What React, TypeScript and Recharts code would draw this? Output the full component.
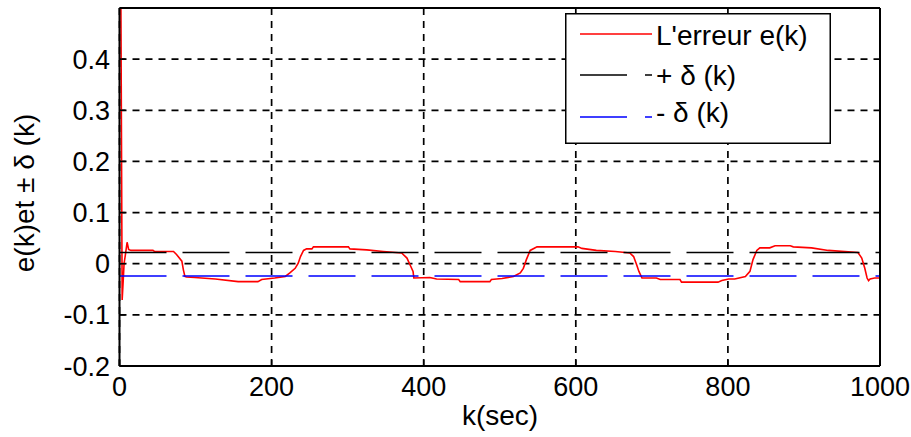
import React from 'react';
import { LineChart, Line, XAxis, YAxis, CartesianGrid, Legend, Label } from 'recharts';

const errK = [1, 3.5, 5, 6, 8, 10, 12, 15, 44, 46, 71, 75, 82, 84, 86, 88, 99, 126, 156, 182, 187, 204, 218, 224, 231, 235, 238, 242, 246, 253, 255, 301, 303, 325, 347, 371, 378, 382, 386, 387, 408, 417, 446, 448, 487, 489, 503, 518, 527, 531, 535, 540, 549, 603, 608, 627, 652, 671, 676, 680, 683, 687, 706, 711, 737, 739, 787, 792, 801, 809, 823, 829, 833, 838, 842, 855, 862, 882, 886, 910, 932, 971, 976, 980, 983, 985, 987, 993, 1000];
const errV = [0.8, -0.071, -0.03, 0.0, 0.02, 0.042, 0.028, 0.026, 0.026, 0.024, 0.024, 0.018, 0.005, -0.012, -0.025, -0.026, -0.027, -0.03, -0.035, -0.035, -0.031, -0.028, -0.025, -0.018, -0.009, 0.001, 0.014, 0.026, 0.029, 0.029, 0.033, 0.033, 0.029, 0.027, 0.024, 0.021, 0.011, -0.002, -0.015, -0.028, -0.027, -0.03, -0.031, -0.035, -0.035, -0.031, -0.029, -0.025, -0.018, -0.009, 0.008, 0.026, 0.033, 0.033, 0.03, 0.026, 0.024, 0.021, 0.014, -0.002, -0.015, -0.028, -0.028, -0.031, -0.031, -0.036, -0.036, -0.033, -0.03, -0.03, -0.025, -0.015, 0.008, 0.026, 0.031, 0.031, 0.035, 0.035, 0.033, 0.031, 0.026, 0.022, 0.011, -0.009, -0.028, -0.033, -0.03, -0.028, -0.028];

const deltaK = [0, 1000];
const deltaPlus = [0.022, 0.022];
const deltaMinus = [-0.024, -0.024];

const xTicks = [0, 200, 400, 600, 800, 1000];
const yTicks = [-0.2, -0.1, 0, 0.1, 0.2, 0.3, 0.4];

const seriesNames = ["L'erreur e(k)", '+ δ (k)', '- δ (k)'];

const errData = errK.map((k, i) => ({ k, v: errV[i] }));
const plusData = deltaK.map((k, i) => ({ k, v: deltaPlus[i] }));
const minusData = deltaK.map((k, i) => ({ k, v: deltaMinus[i] }));

const FONT = '"Liberation Sans", Arial, sans-serif';
const DASH = '47 16';

const LegendBox = (props: any) => {
  const payload = [...(props.payload || [])].sort(
    (a: any, b: any) => seriesNames.indexOf(a.value) - seriesNames.indexOf(b.value)
  );
  const rowsY = [21, 62, 104];
  const textY = [32, 72, 109];
  return (
    <svg width={266} height={131} style={{ display: 'block' }}>
      <rect x={0.75} y={0.75} width={264.5} height={129.5} fill="#fff" stroke="#000" strokeWidth={1.5} />
      {payload.map((entry: any, i: number) => (
        <g key={i}>
          <line
            x1={15}
            x2={87}
            y1={rowsY[i]}
            y2={rowsY[i]}
            stroke={entry.color}
            strokeWidth={1.5}
            strokeDasharray={i === 0 ? undefined : '47 18'}
          />
          <text x={91} y={textY[i]} fontSize={28} fontFamily={FONT} fill="#000">
            {entry.value}
          </text>
        </g>
      ))}
    </svg>
  );
};

export default function App() {
  return (
    <div style={{ position: 'absolute', left: 0, top: 0, background: '#fff' }}>
      <LineChart width={911} height={437} margin={{ top: 0, right: 0, bottom: 0, left: 0 }}>
        <CartesianGrid stroke="#000" strokeWidth={1.7} strokeDasharray="7 6" />
        <XAxis
          dataKey="k"
          type="number"
          domain={[0, 1000]}
          ticks={xTicks}
          allowDataOverflow
          height={71}
          tickSize={-6}
          tickMargin={17}
          axisLine={{ stroke: '#000', strokeWidth: 2 }}
          tickLine={{ stroke: '#000', strokeWidth: 1.5 }}
          tick={{ fill: '#000', fontSize: 27, fontFamily: FONT }}
          interval={0}
        >
          <Label
            content={() => (
              <text x={500} y={425} textAnchor="middle" fontSize={28} fontFamily={FONT} fill="#000">
                k(sec)
              </text>
            )}
          />
        </XAxis>
        <XAxis
          xAxisId="top"
          orientation="top"
          dataKey="k"
          type="number"
          domain={[0, 1000]}
          ticks={xTicks}
          allowDataOverflow
          height={8}
          tickSize={-6}
          tick={false}
          axisLine={{ stroke: '#000', strokeWidth: 2 }}
          tickLine={{ stroke: '#000', strokeWidth: 1.5 }}
        />
        <YAxis
          type="number"
          domain={[-0.2, 0.5]}
          ticks={yTicks}
          allowDataOverflow
          width={119.5}
          tickSize={-6}
          tickMargin={15.5}
          interval={0}
          tickFormatter={(v: number) => String(v)}
          axisLine={{ stroke: '#000', strokeWidth: 2 }}
          tickLine={{ stroke: '#000', strokeWidth: 1.5 }}
          tick={{ fill: '#000', fontSize: 27, fontFamily: FONT }}
        >
          <Label
            content={() => (
              <text
                x={34}
                y={193}
                transform="rotate(-90 34 193)"
                textAnchor="middle"
                fontSize={28}
                fontFamily={FONT}
                fill="#000"
              >
                e(k)et ± δ (k)
              </text>
            )}
          />
        </YAxis>
        <YAxis
          yAxisId="right"
          orientation="right"
          type="number"
          domain={[-0.2, 0.5]}
          ticks={yTicks}
          allowDataOverflow
          width={31}
          tickSize={-6}
          tick={false}
          axisLine={{ stroke: '#000', strokeWidth: 2 }}
          tickLine={{ stroke: '#000', strokeWidth: 1.5 }}
        />
        <Line
          data={errData}
          dataKey="v"
          name={seriesNames[0]}
          type="linear"
          stroke="#ff0000"
          strokeWidth={1.6}
          dot={false}
          activeDot={false}
          isAnimationActive={false}
        />
        <Line
          data={plusData}
          dataKey="v"
          name={seriesNames[1]}
          type="linear"
          stroke="#000000"
          strokeWidth={1.5}
          strokeDasharray={DASH}
          dot={false}
          activeDot={false}
          isAnimationActive={false}
        />
        <Line
          data={minusData}
          dataKey="v"
          name={seriesNames[2]}
          type="linear"
          stroke="#0000ff"
          strokeWidth={1.5}
          strokeDasharray={DASH}
          dot={false}
          activeDot={false}
          isAnimationActive={false}
        />
        <Legend
          layout="horizontal"
          verticalAlign="middle"
          align="center"
          wrapperStyle={{ left: 565, top: 13, width: 266, height: 131 }}
          content={(p: any) => <LegendBox {...p} />}
        />
      </LineChart>
    </div>
  );
}
